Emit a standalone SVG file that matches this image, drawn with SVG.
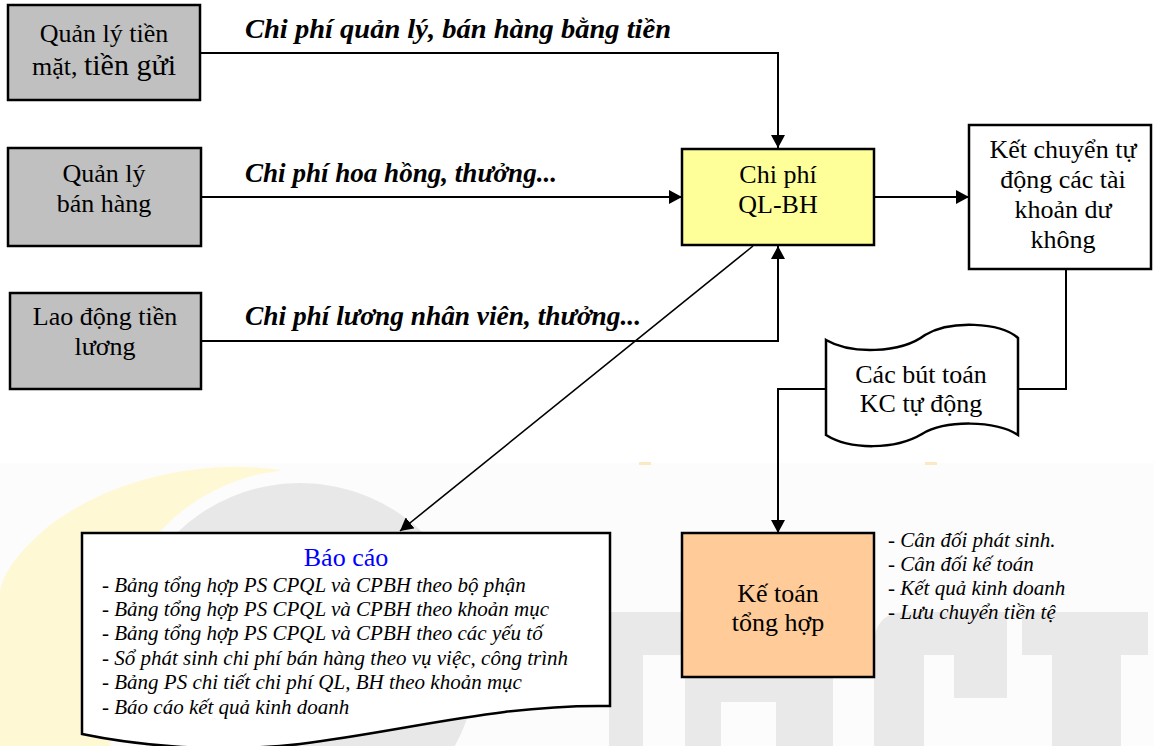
<svg xmlns="http://www.w3.org/2000/svg" width="1154" height="746" viewBox="0 0 1154 746">
  <style>
    .box { stroke: #000; stroke-width: 2.5; }
    .grey { fill: #c0c0c0; }
    .yellow { fill: #ffff99; }
    .white { fill: #ffffff; }
    .peach { fill: #ffcc99; }
    .node { font-family: "Liberation Serif", "Times New Roman", serif; font-size: 26px; fill: #000; text-anchor: middle; }
    .flow { font-family: "Liberation Serif", "Times New Roman", serif; font-size: 28px; font-weight: bold; font-style: italic; fill: #000; }
    .list { font-family: "Liberation Serif", "Times New Roman", serif; font-size: 21px; font-style: italic; fill: #000; }
    .title { font-family: "Liberation Serif", "Times New Roman", serif; font-size: 26px; fill: #0000ff; text-anchor: middle; }
    .link { fill: none; stroke: #000; stroke-width: 2; }
    .mark { fill: #e9e9e9; }
  </style>
  <defs>
    <marker id="arrow" markerUnits="userSpaceOnUse" markerWidth="14" markerHeight="14" refX="13" refY="7" orient="auto">
      <path d="M0,0 L13,7 L0,14 Z" fill="#000"/>
    </marker>
  </defs>

  <!-- background with faint logo -->
  <rect x="0" y="0" width="1154" height="746" fill="#ffffff"/>
  <g id="logo">
    <rect x="0" y="463" width="1154" height="283" fill="#fcfcfc"/>
    <rect x="639" y="462" width="12" height="3" fill="#fde8c4"/>
    <rect x="925" y="462" width="12" height="3" fill="#fde8c4"/>
    <path d="M280,470 C200,458 110,480 50,525 C20,550 0,575 0,595 L0,746 L110,746 L110,660 A190,190 0 0 1 280,471 Z" fill="#fff8d4"/>
    <circle cx="300" cy="660" r="177" fill="#e8e8e8"/>
    <!-- letter blocks -->
    <rect class="mark" x="609" y="612" width="224" height="43"/>
    <rect class="mark" x="609" y="612" width="34" height="134"/>
    <rect class="mark" x="685" y="612" width="36" height="134"/>
    <rect class="mark" x="721" y="655" width="55" height="47"/>
    <rect class="mark" x="776" y="612" width="57" height="134"/>
    <path class="mark" d="M874,746 L874,645 Q874,612 907,612 L1007,612 L1007,698 L954,698 L954,655 L924,655 L924,746 Z"/>
    <rect class="mark" x="1022" y="612" width="126" height="43"/>
    <rect class="mark" x="1052" y="612" width="69" height="134"/>
  </g>

  <!-- connectors -->
  <g id="connectors">
    <polyline class="link" points="200,53 778,53 778,148" marker-end="url(#arrow)"/>
    <line class="link" x1="201" y1="197" x2="682" y2="197" marker-end="url(#arrow)"/>
    <polyline class="link" points="201,341 778,341 778,246" marker-end="url(#arrow)"/>
    <line class="link" x1="874" y1="197" x2="969" y2="197" marker-end="url(#arrow)"/>
    <polyline class="link" points="1066,269 1066,389 1018,389"/>
    <polyline class="link" points="826,389 778,389 778,533" marker-end="url(#arrow)"/>
    <line x1="753" y1="246" x2="400" y2="531" stroke="#000" stroke-width="1.6" marker-end="url(#arrow)"/>
    <text class="flow" x="245" y="38" textLength="426" lengthAdjust="spacingAndGlyphs">Chi phí quản lý, bán hàng bằng tiền</text>
    <text class="flow" x="245" y="182" textLength="312" lengthAdjust="spacingAndGlyphs">Chi phí hoa hồng, thưởng...</text>
    <text class="flow" x="245" y="325" textLength="396" lengthAdjust="spacingAndGlyphs">Chi phí lương nhân viên, thưởng...</text>
  </g>

  <g id="cash">
    <rect class="box grey" x="8" y="5" width="192" height="95"/>
    <text class="node" x="104" y="42">Quản lý tiền</text>
    <text class="node" x="104" y="75">mặt, <tspan font-size="30">tiền gửi</tspan></text>
  </g>

  <g id="sales">
    <rect class="box grey" x="8" y="148" width="193" height="98"/>
    <text class="node" x="104" y="182">Quản lý</text>
    <text class="node" x="104" y="212">bán hàng</text>
  </g>

  <g id="payroll">
    <rect class="box grey" x="10" y="293" width="191" height="96"/>
    <text class="node" x="105" y="325">Lao động tiền</text>
    <text class="node" x="105" y="355">lương</text>
  </g>

  <g id="expense">
    <rect class="box yellow" x="682" y="149" width="192" height="96"/>
    <text class="node" x="778" y="183">Chi phí</text>
    <text class="node" x="778" y="213">QL-BH</text>
  </g>

  <g id="transfer">
    <rect class="box white" x="969" y="125" width="182" height="144"/>
    <text class="node" x="1063" y="158">Kết chuyển tự</text>
    <text class="node" x="1063" y="188">động các tài</text>
    <text class="node" x="1063" y="218">khoản dư</text>
    <text class="node" x="1063" y="248">không</text>
  </g>

  <g id="entries">
    <path class="box white" d="M826,340 C850,354 900,354 925,335 C950,320 1000,322 1018,338 L1018,435 C995,420 945,420 922,434 C895,450 850,450 826,435 Z"/>
    <text class="node" x="921" y="383">Các bút toán</text>
    <text class="node" x="921" y="412">KC tự động</text>
  </g>

  <g id="ledger">
    <rect class="box peach" x="682" y="533" width="192" height="144"/>
    <text class="node" x="778" y="602">Kế toán</text>
    <text class="node" x="778" y="631">tổng hợp</text>
  </g>

  <g id="ledger-notes">
    <text class="list" x="888" y="547">- Cân đối phát sinh.</text>
    <text class="list" x="888" y="571">- Cân đối kế toán</text>
    <text class="list" x="888" y="595">- Kết quả kinh doanh</text>
    <text class="list" x="888" y="619">- Lưu chuyển tiền tệ</text>
  </g>

  <g id="reports">
    <path class="box white" d="M82,533 L610,533 L610,706 C500,704 410,730 300,744 C210,754 130,744 82,734 Z"/>
    <text class="title" x="346" y="566">Báo cáo</text>
    <text class="list" x="102" y="592">- Bảng tổng hợp PS CPQL và CPBH theo bộ phận</text>
    <text class="list" x="102" y="616">- Bảng tổng hợp PS CPQL và CPBH theo khoản mục</text>
    <text class="list" x="102" y="640">- Bảng tổng hợp PS CPQL và CPBH theo các yếu tố</text>
    <text class="list" x="102" y="665">- Sổ phát sinh chi phí bán hàng theo vụ việc, công trình</text>
    <text class="list" x="102" y="689">- Bảng PS chi tiết chi phí QL, BH theo khoản mục</text>
    <text class="list" x="102" y="714">- Báo cáo kết quả kinh doanh</text>
  </g>
</svg>
